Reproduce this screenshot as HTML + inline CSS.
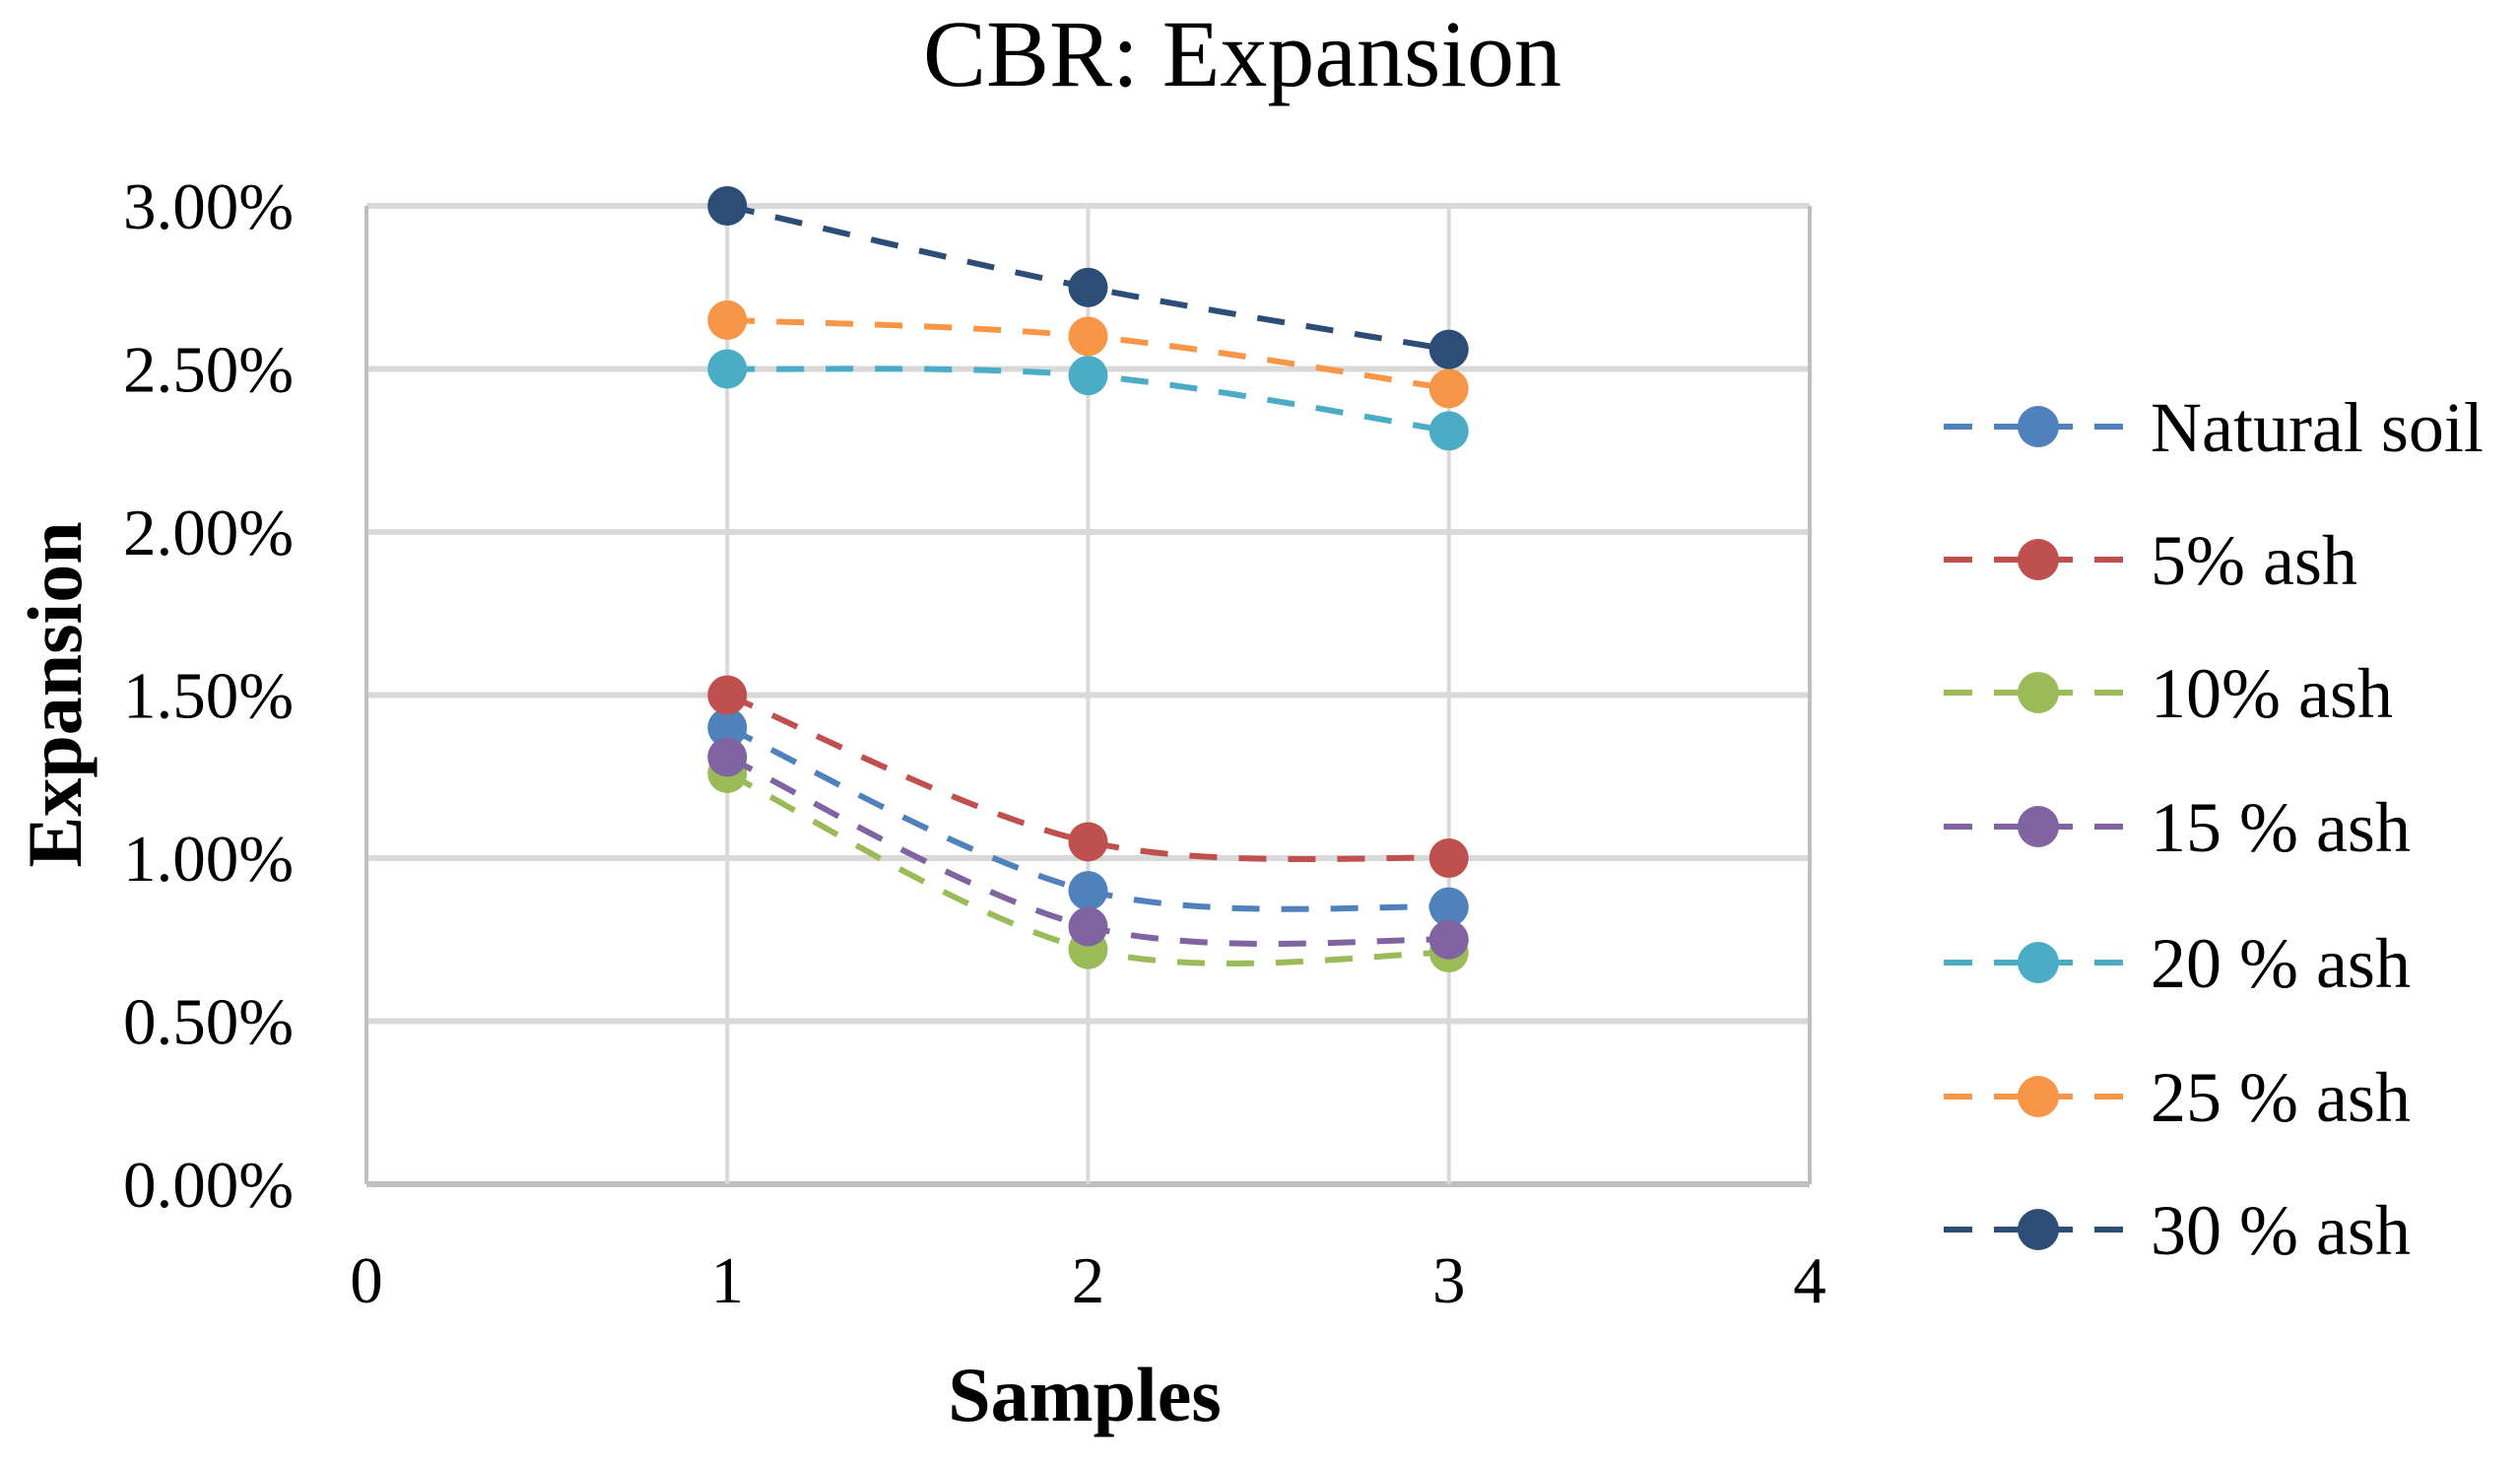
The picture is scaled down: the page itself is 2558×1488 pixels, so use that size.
<!DOCTYPE html>
<html><head><meta charset="utf-8">
<style>
html,body{margin:0;padding:0;background:#fff;}
svg{display:block;font-family:"Liberation Serif",serif;}
</style></head>
<body>
<svg id="chart" width="2558" height="1488" viewBox="0 0 2558 1488">
<text x="1261" y="87" font-size="96" text-anchor="middle">CBR: Expansion</text>
<g id="grid"></g>
<g id="series"></g>
<g id="legend"></g>
<text x="1101" y="1442" font-size="78" font-weight="bold" text-anchor="middle">Samples</text>
<text transform="translate(82,705) rotate(-90)" font-size="78" font-weight="bold" text-anchor="middle">Expansion</text>
</svg>
<script>
const xTicks = [0,1,2,3,4];
const yTicks = [0,0.5,1,1.5,2,2.5,3];
const yTickLabels = ["0.00%","0.50%","1.00%","1.50%","2.00%","2.50%","3.00%"];
const samples = [1,2,3];
const seriesNames = ["Natural soil","5% ash","10% ash","15 % ash","20 % ash","25 % ash","30 % ash"];
const seriesColors = ["#4f81bd","#c0504d","#9bbb59","#8064a2","#4bacc6","#f79646","#2c4d75"];
const natural = [1.40,0.90,0.85];
const ash5 = [1.50,1.05,1.00];
const ash10 = [1.26,0.72,0.71];
const ash15 = [1.31,0.79,0.75];
const ash20 = [2.50,2.48,2.31];
const ash25 = [2.65,2.60,2.44];
const ash30 = [3.00,2.75,2.56];
const seriesValues = [natural,ash5,ash10,ash15,ash20,ash25,ash30];

const NS="http://www.w3.org/2000/svg";
const L=372,R=1837,T=209,B=1202;
function xs(v){return L+(v-0)/(4-0)*(R-L);}
function ys(v){return B-(v-0)/(3-0)*(B-T);}
function mk(tag,attrs,parent){const e=document.createElementNS(NS,tag);for(const k in attrs)e.setAttribute(k,attrs[k]);parent.appendChild(e);return e;}

const grid=document.getElementById('grid');
yTicks.forEach((t,i)=>{
  const ln=mk('line',{x1:L,x2:R,y1:ys(t),y2:ys(t),stroke:i===0?'#bfbfbf':'#d9d9d9','stroke-width':6},grid);
  
  
  const tx=mk('text',{x:298,y:ys(t)+23,'font-size':67,'text-anchor':'end'},grid);
  tx.textContent=yTickLabels[i];
  
  
});
xTicks.forEach((t,i)=>{
  const ln=mk('line',{x1:xs(t),x2:xs(t),y1:T,y2:B,stroke:(i===0||i===xTicks.length-1)?'#bfbfbf':'#d9d9d9','stroke-width':4},grid);
  
  
  const tx=mk('text',{x:xs(t),y:1322,'font-size':67,'text-anchor':'middle'},grid);
  tx.textContent=String(t);
  
  
});

function smoothPath(pts){
  let d=`M${pts[0][0]},${pts[0][1]}`;
  for(let i=0;i<pts.length-1;i++){
    const p0=pts[Math.max(0,i-1)],p1=pts[i],p2=pts[i+1],p3=pts[Math.min(pts.length-1,i+2)];
    const c1=[p1[0]+(p2[0]-p0[0])/6,p1[1]+(p2[1]-p0[1])/6];
    const c2=[p2[0]-(p3[0]-p1[0])/6,p2[1]-(p3[1]-p1[1])/6];
    d+=` C${c1[0]},${c1[1]} ${c2[0]},${c2[1]} ${p2[0]},${p2[1]}`;
  }
  return d;
}
const sg=document.getElementById('series');
const lg=document.getElementById('legend');
const legY=[433,568,703,839,977,1113,1248];
seriesValues.forEach((vals,si)=>{
  const col=seriesColors[si];
  const g=mk('g',{},sg);
  
  
  const pts=vals.map((v,i)=>[xs(samples[i]),ys(v)]);
  const p=mk('path',{d:smoothPath(pts),fill:'none',stroke:col,'stroke-width':6,'stroke-dasharray':'28 22'},g);
  
  
  pts.forEach(pt=>{
    const c=mk('circle',{cx:pt[0],cy:pt[1],r:20,fill:col},g);
    
    
  });
  const le=mk('g',{},lg);
  
  
  const y=legY[si];
  mk('line',{x1:1973,x2:2160,y1:y,y2:y,stroke:col,'stroke-width':6,'stroke-dasharray':'29 22'},le);
  mk('circle',{cx:2069,cy:y,r:21,fill:col},le);
  const t=mk('text',{x:2183,y:y+25,'font-size':72},le);
  t.textContent=seriesNames[si];
});
</script>
</body></html>
